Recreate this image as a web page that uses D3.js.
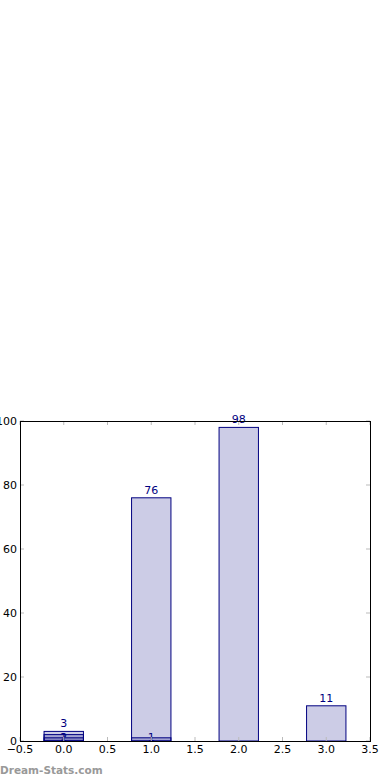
<!DOCTYPE html>
<html><head><meta charset="utf-8">
<script src="https://cdn.jsdelivr.net/npm/d3@7"></script>
<style>body{margin:0;background:#fff}svg{display:block}</style>
</head><body>
<script>
const categories = [0, 1, 2, 3];
const seriesA = [3, 76, 98, 11];
const seriesB = [2, 0, 0, 0];
const seriesC = [1, 1, 0, 0];
const xTicks = [-0.5, 0, 0.5, 1, 1.5, 2, 2.5, 3, 3.5];
const yTicks = [0, 20, 40, 60, 80, 100];

const W = 390, H = 780;
const m = {l: 20, r: 20, t: 421, b: 39};
const svg = d3.select("body").append("svg").attr("width", W).attr("height", H);
const x = d3.scaleLinear().domain([-0.5, 3.5]).range([m.l, W - m.r]);
const y = d3.scaleLinear().domain([0, 100]).range([H - m.b, m.t]);
const bw = 0.45;
const fmtX = d => d3.format(".1f")(d).replace("-", "\u2212");

const g = svg.append("g");
const allSeries = [seriesA, seriesB, seriesC];
allSeries.forEach(s => {
  categories.forEach((c, i) => {
    if (s[i] <= 0) return;
    g.append("rect")
      .attr("x", x(c - bw / 2)).attr("width", x(c + bw / 2) - x(c - bw / 2))
      .attr("y", y(s[i])).attr("height", y(0) - y(s[i]))
      .attr("fill", "rgba(0,0,128,0.2)").attr("stroke", "#000080").attr("stroke-width", 1);
  });
});
allSeries.forEach((s, k) => {
  categories.forEach((c, i) => {
    if (s[i] <= 0) return;
    const yy = k === 0 ? y(s[i]) - 4 : y(0) - 0.5;
    g.append("text").attr("x", x(c)).attr("y", yy)
      .attr("text-anchor", "middle").attr("font-family", "DejaVu Sans").attr("font-size", 11)
      .attr("fill", "#000080").text(s[i]);
  });
});

// ticks
const tk = svg.append("g").attr("stroke", "#bbb").attr("stroke-width", 1);
xTicks.forEach(t => {
  tk.append("line").attr("x1", x(t)).attr("x2", x(t)).attr("y1", y(0)).attr("y2", y(0) - 4);
  tk.append("line").attr("x1", x(t)).attr("x2", x(t)).attr("y1", y(100)).attr("y2", y(100) + 4);
});
yTicks.forEach(t => {
  tk.append("line").attr("x1", m.l).attr("x2", m.l + 4).attr("y1", y(t)).attr("y2", y(t));
  tk.append("line").attr("x1", W - m.r).attr("x2", W - m.r - 4).attr("y1", y(t)).attr("y2", y(t));
});

// frame
svg.append("rect").attr("x", m.l + 0.5).attr("y", m.t + 0.5)
  .attr("width", W - m.l - m.r).attr("height", H - m.t - m.b)
  .attr("fill", "none").attr("stroke", "#000").attr("stroke-width", 1);

// labels
xTicks.forEach(t => {
  svg.append("text").attr("x", x(t)).attr("y", y(0) + 12)
    .attr("text-anchor", "middle").attr("font-family", "DejaVu Sans").attr("font-size", 11)
    .attr("fill", "#000").text(fmtX(t));
});
yTicks.forEach(t => {
  svg.append("text").attr("x", m.l - 3).attr("y", y(t) + 4)
    .attr("text-anchor", "end").attr("font-family", "DejaVu Sans").attr("font-size", 11)
    .attr("fill", "#000").text(t);
});

svg.append("text").attr("x", 0).attr("y", 774)
  .attr("font-family", "DejaVu Sans").attr("font-weight", "bold").attr("font-size", 10.5)
  .attr("fill", "#999").text("Dream-Stats.com");
</script>
</body></html>
